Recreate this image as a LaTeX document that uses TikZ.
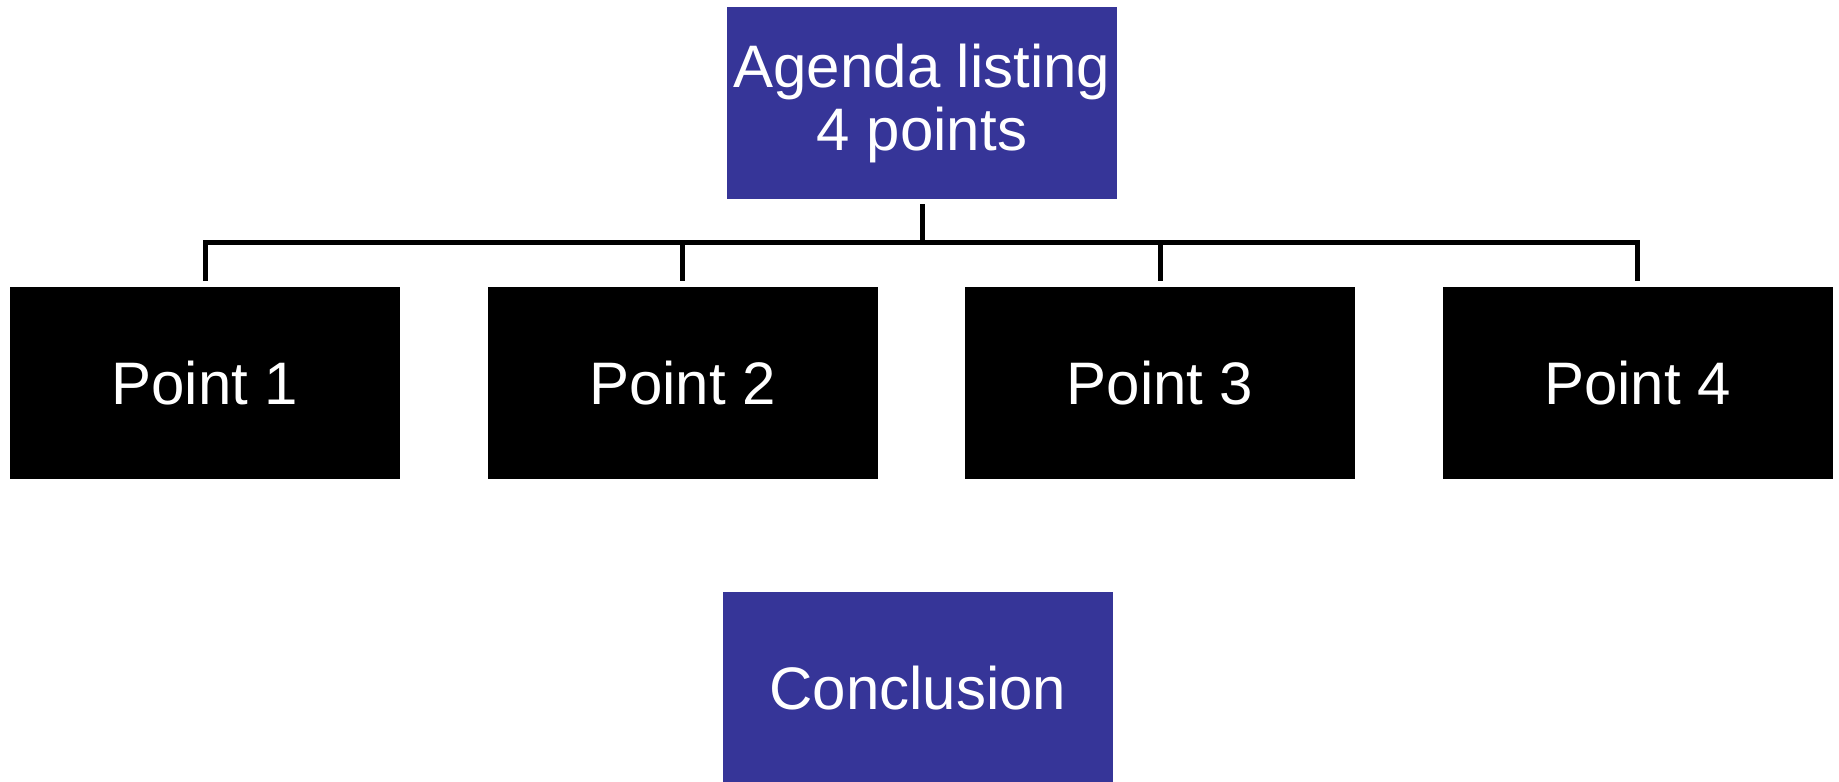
\documentclass[tikz,border=0pt]{standalone}
\usepackage{fontspec}
\setmainfont{Liberation Sans}
\definecolor{boxblue}{RGB}{54,53,152}
\begin{document}
\begin{tikzpicture}[x=0.5pt,y=-0.5pt,
  box/.style={rectangle, inner sep=0pt, minimum width=195pt, minimum height=96pt,
    text=white, font=\fontsize{30}{31.5}\selectfont, align=center},
  bluebox/.style={box, fill=boxblue},
  blackbox/.style={box, fill=black},
  conn/.style={draw=black, line width=2.5pt, line join=miter}]
\useasboundingbox (0,0) rectangle (1839,781);
\node[bluebox] (top) at (922,103) {Agenda listing\\4 points};
\node[blackbox] (p1) at (205,383) {Point 1};
\node[blackbox] (p2) at (682.5,383) {Point 2};
\node[blackbox] (p3) at (1160,383) {Point 3};
\node[blackbox] (p4) at (1637.5,383) {Point 4};
\node[bluebox] (conc) at (918,688) {Conclusion};
\foreach \c in {p1,p2,p3,p4}{
  \draw[conn] ([yshift=-2.5pt]top.south) -- ++(0,38) -| ([yshift=3pt]\c.north);
}
\end{tikzpicture}
\end{document}
